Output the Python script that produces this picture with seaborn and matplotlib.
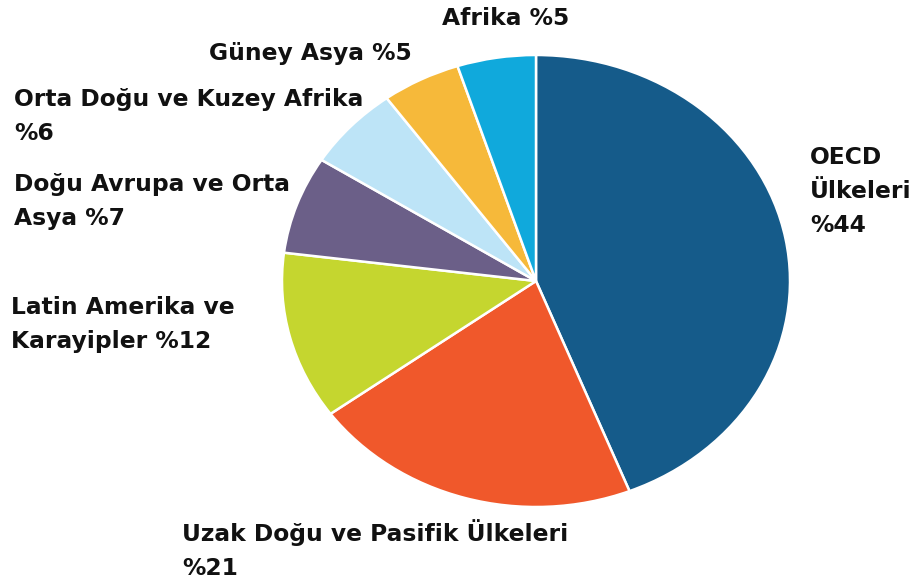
import matplotlib
matplotlib.use("Agg")
import matplotlib.pyplot as plt
import seaborn as sns

# -------------------------------------------------
# Data
# -------------------------------------------------
regions = [
    "OECD\nÜlkeleri",
    "Uzak Doğu ve Pasifik Ülkeleri",
    "Latin Amerika ve\nKarayipler",
    "Doğu Avrupa ve Orta\nAsya",
    "Orta Doğu ve Kuzey Afrika",
    "Güney Asya",
    "Afrika",
]
shares = [44, 21, 12, 7, 6, 5, 5]
# break before the percentage or not
pct_sep = ["\n", "\n", " ", " ", "\n", " ", " "]

colors = ["#155b8a", "#f0582b", "#c5d62f", "#6b5f88",
          "#bde4f7", "#f6b93a", "#10a9dc"]

# label anchors (pixels, left / baseline of last line)
label_px = [(810, 232), (182, 575), (11, 348), (14, 225),
            (14, 140), (209, 60), (442, 25)]

W, H = 915, 583

# -------------------------------------------------
# Plot
# -------------------------------------------------
sns.set_theme(style="white")
plt.rcParams["font.family"] = ["DejaVu Sans"]

fig = plt.figure(figsize=(W / 100, H / 100), dpi=100)
fig.patch.set_facecolor("white")

# pie is slightly stretched horizontally in the original
ax = fig.add_axes([282 / W, 1 - 507 / H, 508 / W, 452 / H])
ax.pie(
    shares,
    colors=sns.color_palette(colors),
    startangle=90,
    counterclock=False,
    wedgeprops=dict(edgecolor="white", linewidth=1.8),
)
ax.set_aspect("auto")
ax.set_xlim(-1, 1)
ax.set_ylim(-1, 1)
ax.axis("off")

for name, v, sep, (px, py) in zip(regions, shares, pct_sep, label_px):
    fig.text(px / W, 1 - py / H, f"{name}{sep}%{v}",
             ha="left", va="baseline", fontsize=16.8, fontweight="bold",
             color="#111111", linespacing=1.6)

fig.savefig("out.png", dpi=100, facecolor="white")
